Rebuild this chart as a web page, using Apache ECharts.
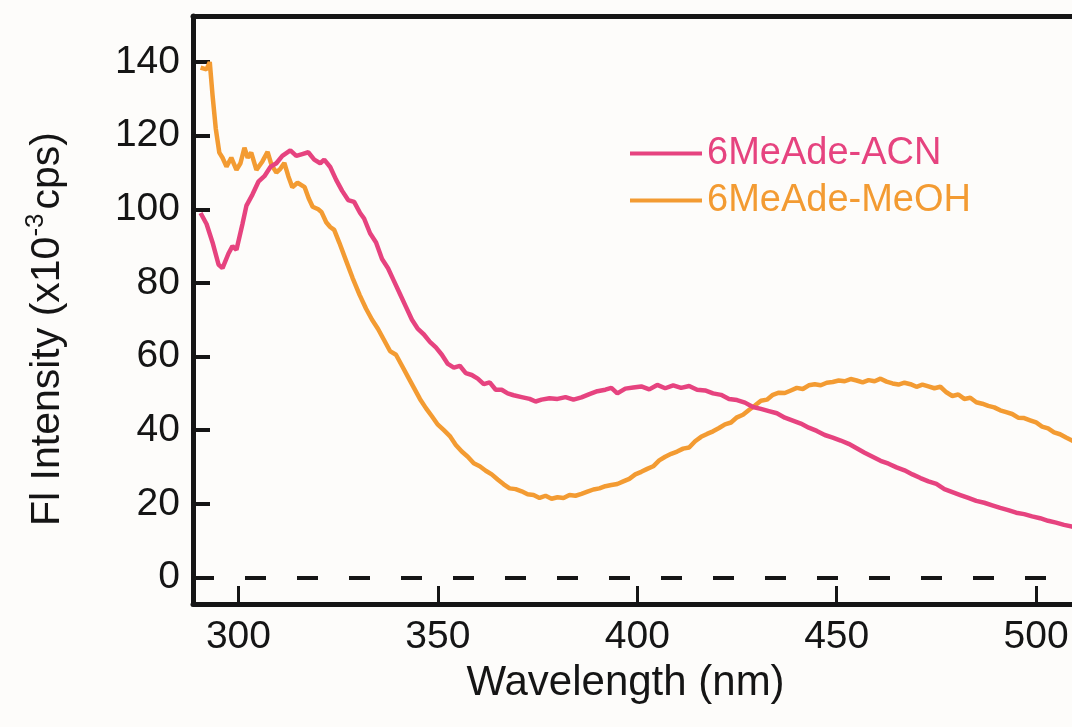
<!DOCTYPE html>
<html>
<head>
<meta charset="utf-8">
<script src="https://cdn.jsdelivr.net/npm/echarts@6/dist/echarts.min.js"></script>
<style>
  html, body { margin: 0; padding: 0; background: #fdfcfa; }
  #chart { width: 1072px; height: 727px; }
</style>
</head>
<body>
<div id="chart"></div>
<script>
// wavelength (nm) and intensity (x10^-3 cps)
var acnWl = [290.5, 292, 293.5, 295, 296, 297.5, 298.5, 299.5, 301, 302, 303.5, 305, 306.5, 308, 309.5, 311, 313, 314.5, 316, 317.5,
  319, 320.5, 321.5, 323, 324.5, 326, 327.5, 329, 330.5, 331.5, 333, 334.5, 336, 337.5, 339, 340.5, 342, 343.5, 345, 346.5,
  348, 349.5, 351, 352.5, 354, 355.5, 357, 358.5, 360, 361.5, 363, 364.5, 366, 367.5, 369, 371, 373, 374.5, 376, 378,
  380, 382, 384, 386, 388, 390, 392, 393.5, 395, 397, 399, 401, 403, 405, 407, 409, 411, 413, 415, 417,
  419, 421, 423, 425, 427, 429, 431, 433, 435, 437, 439, 441, 443, 445, 447, 449, 451, 453, 455, 457,
  459, 461, 463, 465, 467, 469, 471, 473, 475, 477, 479, 481, 483, 485, 487, 489, 491, 493, 495, 497,
  499, 501, 503, 505, 507, 509, 511]
var acnVal = [99, 96, 91, 85, 84, 88, 90, 89, 96, 101, 104, 107.5, 109, 111.5, 112.5, 114.5, 116, 114.5, 115, 115.5,
  113.5, 112.5, 113.5, 111.5, 108, 105, 102.5, 102, 99, 97.5, 93.5, 91, 86.5, 84, 80.5, 77, 73.5, 70, 67.5, 66,
  64, 62.5, 60.5, 58, 57, 57.5, 55.5, 55, 54, 52.5, 53, 51, 51, 50, 49.5, 49, 48.5, 47.8, 48.3, 48.7,
  48.5, 49, 48.3, 48.9, 49.8, 50.6, 51, 51.5, 50, 51.3, 51.6, 51.9, 51.1, 52.3, 51.4, 52.2, 51.5, 52, 51, 50.8,
  50, 49.6, 48.5, 48.2, 47.5, 46.3, 45.8, 45.2, 44.6, 43.4, 42.6, 41.8, 40.7, 39.8, 38.7, 38, 37.2, 36.3, 35.1, 33.9,
  32.8, 31.7, 30.9, 29.9, 29.1, 28, 27, 26.1, 25.4, 24, 23.2, 22.4, 21.6, 20.8, 20.3, 19.6, 18.9, 18.3, 17.6, 17.2,
  16.6, 16.1, 15.4, 14.9, 14.3, 13.8, 13.3]

var meohWl = [290.5, 292, 292.8, 293.5, 294.3, 295.2, 296, 297, 298.2, 299.5, 300.5, 301.5, 302.3, 303.2, 304.5, 306, 307.3, 308.3, 309.5, 310.5,
  311.5, 312.5, 313.5, 314.8, 316.6, 317.6, 318.6, 320, 320.8, 322, 323, 324, 325.3, 327, 328.6, 330.4, 332, 333.5, 335, 336.5,
  338, 339.5, 341, 342.5, 344, 345.5, 347, 348.5, 350, 351.5, 353, 354.5, 356, 357.5, 359, 360.5, 362, 363.5, 365, 366.5,
  368, 369.5, 371, 372.5, 374, 375.5, 377, 378.5, 380, 381.5, 383, 384.5, 386, 387.5, 389, 390.5, 392, 393.5, 395, 396.5,
  398, 399.5, 401, 402.5, 404, 405.5, 407, 408.5, 410, 411.5, 413, 414.5, 416, 417.5, 419, 420.5, 422, 423.5, 425, 426.5,
  428, 429.5, 431, 432.5, 434, 435.5, 437, 438.5, 440, 441.5, 443, 444.5, 446, 447.5, 449, 450.5, 452, 453.5, 455, 456.5,
  458, 459.5, 461, 462.5, 464, 465.5, 467, 468.5, 470, 471.5, 473, 474.5, 476, 477.5, 479, 480.5, 482, 483.5, 485, 486.5,
  488, 489.5, 491, 492.5, 494, 495.5, 497, 498.5, 500, 501.5, 503, 504.5, 506, 507.5, 509, 511]
var meohVal = [138.5, 138, 140, 131, 122, 115.4, 114, 111.6, 114, 110.7, 112.5, 116.7, 114, 115.4, 110.7, 113, 115.6, 112, 110, 111,
  112.6, 109, 106, 107.2, 106, 103, 100.7, 100, 99.3, 96.5, 95.2, 94.4, 90.9, 86, 81.4, 76.7, 73, 70, 67.5, 64.5,
  61.5, 60.5, 57.5, 54.5, 51.5, 48.5, 46, 43.8, 41.5, 40, 38.4, 36, 34.2, 32.8, 31, 30.2, 29, 28, 26.6, 25.3,
  24.2, 24, 23.4, 22.6, 22.4, 21.6, 22.2, 21.4, 21.8, 21.6, 22.4, 22.2, 22.7, 23.3, 23.9, 24.2, 24.8, 25.1, 25.4, 26.1,
  26.8, 28, 28.7, 29.5, 30.2, 31.8, 32.8, 33.6, 34.2, 35, 35.3, 37, 38.2, 39, 39.7, 40.6, 41.6, 42.1, 43.5, 44.2,
  45.5, 46.7, 48, 48.3, 49.6, 50.2, 50.1, 50.8, 51.5, 51.2, 52.2, 52.5, 52.2, 52.9, 53.1, 53.5, 53.3, 53.9, 53.5, 53,
  53.6, 53.3, 54, 53.2, 52.7, 52.4, 52.9, 52.5, 51.8, 52.4, 51.9, 51.4, 51.8, 50.3, 49.3, 49.7, 48.5, 48.8, 47.6, 47.2,
  46.6, 46.2, 45.4, 44.9, 44.4, 43.4, 43.3, 42.7, 42.1, 41, 40.5, 39.4, 38.9, 38, 37.2, 36.4]

var seriesNames = ['6MeAde-ACN', '6MeAde-MeOH']
var xTicks = [300, 350, 400, 450, 500]
var yTicks = [0, 20, 40, 60, 80, 100, 120, 140]

var pink = '#e6437f'
var orange = '#f39b32'
var ink = '#151515'
var font = '"Liberation Sans", Arial, sans-serif'

function pairs (xs, ys) {
  return xs.map(function (x, i) { return [x, ys[i]] })
}

var chart = echarts.init(document.getElementById('chart'))
chart.setOption({
  backgroundColor: '#fdfcfa',
  animation: false,
  textStyle: { fontFamily: font },
  grid: { left: 193, right: 0, top: 16, bottom: 123 },
  legend: {
    orient: 'vertical',
    left: 630,
    top: 130,
    padding: 0,
    itemWidth: 72,
    itemHeight: 4,
    itemGap: 0,
    textStyle: { fontSize: 38, fontFamily: font, lineHeight: 47, padding: [0, 0, 0, 0] },
    data: [
      { name: seriesNames[0], icon: 'rect', itemStyle: { color: pink }, textStyle: { color: pink } },
      { name: seriesNames[1], icon: 'rect', itemStyle: { color: orange }, textStyle: { color: orange } }
    ]
  },
  xAxis: [
    {
      type: 'value',
      min: 288.6,
      max: 509,
      name: 'Wavelength (nm)',
      nameLocation: 'middle',
      nameGap: 58,
      nameTextStyle: { fontSize: 42, color: ink, fontFamily: font, padding: [0, 14, 0, 0] },
      axisLine: { onZero: false, lineStyle: { color: ink, width: 5 } },
      axisTick: { inside: true, length: 18, lineStyle: { color: ink, width: 3 }, customValues: xTicks },
      axisLabel: { fontSize: 39, color: ink, margin: 14, customValues: xTicks },
      splitLine: { show: false }
    },
    {
      type: 'value',
      position: 'top',
      min: 288.6,
      max: 509,
      axisLine: { show: true, onZero: false, lineStyle: { color: ink, width: 5 } },
      axisTick: { show: false },
      axisLabel: { show: false },
      splitLine: { show: false }
    }
  ],
  yAxis: {
    type: 'value',
    min: -7.2,
    max: 152.5,
    name: 'Fl Intensity (x10{sup|-3}cps)',
    nameLocation: 'middle',
    nameGap: 120,
    nameTextStyle: {
      fontSize: 41,
      color: ink,
      fontFamily: font,
      padding: [0, 38, 0, 0],
      rich: { sup: { fontSize: 26, color: ink, fontFamily: font, padding: [0, 4, 24, 0] } }
    },
    axisLine: { onZero: false, lineStyle: { color: ink, width: 5 } },
    axisTick: { inside: true, length: 17, lineStyle: { color: ink, width: 4 }, customValues: yTicks },
    axisLabel: { fontSize: 39, color: ink, margin: 13, customValues: yTicks },
    splitLine: { show: false }
  },
  series: [
    {
      name: seriesNames[0],
      type: 'line',
      showSymbol: false,
      symbol: 'none',
      color: pink,
      lineStyle: { color: pink, width: 4.5 },
      data: pairs(acnWl, acnVal),
      markLine: {
        silent: true,
        symbol: 'none',
        label: { show: false },
        lineStyle: { color: ink, width: 4, type: [21, 31] },
        data: [{ yAxis: 0 }]
      },
      z: 3
    },
    {
      name: seriesNames[1],
      type: 'line',
      showSymbol: false,
      symbol: 'none',
      color: orange,
      lineStyle: { color: orange, width: 4.5 },
      data: pairs(meohWl, meohVal),
      z: 2
    }
  ]
})
</script>
</body>
</html>
